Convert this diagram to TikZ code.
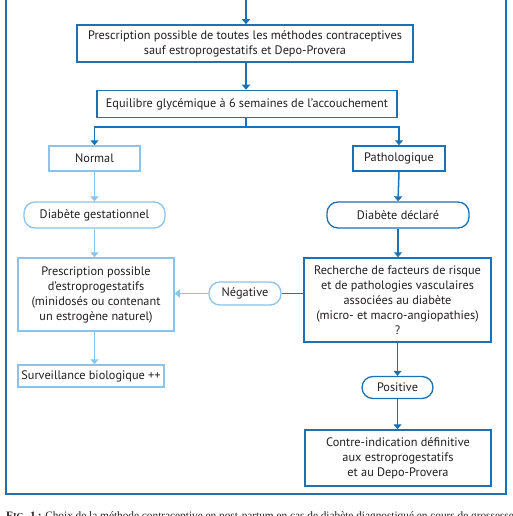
\documentclass[tikz,border=0pt]{standalone}
\usepackage{fontspec}
\setmainfont{PT Sans}
\newfontfamily\capfont{Liberation Serif}
\usetikzlibrary{arrows.meta}
\definecolor{dblue}{RGB}{28,112,180}
\definecolor{lblue}{RGB}{140,195,232}
\definecolor{txt}{RGB}{35,31,32}
\begin{document}
\begin{tikzpicture}[x=1pt,y=-1pt,
  every node/.style={font=\fontsize{12.3}{15}\selectfont, text=txt, align=center, inner sep=0pt},
  dbox/.style={draw=dblue, line width=1.5pt, fill=white, minimum width=#1},
  lbox/.style={draw=lblue, line width=1.5pt, fill=white, minimum width=#1},
  dpill/.style={draw=dblue, line width=1.3pt, fill=white, rounded corners=11pt, minimum width=#1},
  lpill/.style={draw=lblue, line width=1.3pt, fill=white, rounded corners=11pt, minimum width=#1},
  darr/.style={draw=dblue, line width=1.5pt, -{Triangle[width=8pt,length=5pt]}},
  larr/.style={draw=lblue, line width=1.5pt, -{Triangle[width=8pt,length=5pt]}},
  dline/.style={draw=dblue, line width=1.5pt},
]
\useasboundingbox (0,0) rectangle (512,516);
\clip (0,0) rectangle (512,516);
% outer frame
\draw[dblue, line width=2pt] (6,-10) rectangle (506,494);

\node[dbox=336, minimum height=37] (b1) at (245,43.5) {Prescription possible de toutes les méthodes contraceptives\\sauf estroprogestatifs et Depo-Provera};
\node[dbox=300, minimum height=27] (b2) at (247,104) {Equilibre glycémique à 6 semaines de l’accouchement};
\node[lbox=91, minimum height=25] (nor) at (94.5,158.5) {Normal};
\node[dbox=92, minimum height=25] (pat) at (399,158.5) {Pathologique};
\node[lpill=141, minimum height=26] (dg) at (94.5,215) {Diabète gestationnel};
\node[dpill=142, minimum height=26] (dd) at (398,215) {Diabète déclaré};
\node[lbox=156, minimum height=73] (pr) at (96,294.5) {Prescription possible\\d’estroprogestatifs\\(minidosés ou contenant\\un estrogène naturel)};
\node[lbox=146, minimum height=22] (sv) at (91,376) {Surveillance biologique ++};
\node[dbox=187, minimum height=84] (re) at (397.5,300) {Recherche de facteurs de risque\\et de pathologies vasculaires\\associées au diabète\\(micro- et macro-angiopathies)\\?};
\node[lpill=72, minimum height=23] (ng) at (245,293.5) {Négative};
\node[dpill=71, minimum height=22] (po) at (397.5,387.5) {Positive};
\node[dbox=186, minimum height=56] (ci) at (398,458) {Contre-indication définitive\\aux estroprogestatifs\\et au Depo-Provera};

\coordinate (top) at (246,-5);
\coordinate (split) at (246,127);

\draw[darr] (top) -- (b1.north -| top);
\draw[darr] (b1.south -| top) -- (b2.north -| top);
\draw[dline] (b2.south -| split) -- (split);
\draw[darr] (split) -| (nor.north);
\draw[darr] (split) -| (pat.north);
\draw[larr] (nor.south) -- (dg.north);
\draw[larr] (dg.south) -- (pr.north -| dg.south);
\draw[larr] (pr.south -| dg.south) -- (sv.north -| dg.south);
\draw[darr] (pat.south) -- (dd.north);
\draw[darr] (dd.south) -- (re.north -| dd.south);
\draw[dline] (re.west |- ng.east) -- (ng.east);
\draw[larr] (ng.west) -- (pr.east |- ng.west);
\draw[darr] (re.south -| po.north) -- (po.north);
\draw[darr] (po.south) -- (ci.north -| po.south);

\node[anchor=base west, font=\capfont\fontsize{11.3}{13}\selectfont, text=txt, align=left] (cap) at (6,519.5)
  {\textbf{F\scalebox{0.8}{IG}. 1\,:} Choix de la méthode contraceptive en post-partum en cas de diabète diagnostiqué en cours de grossesse};
\end{tikzpicture}
\end{document}
